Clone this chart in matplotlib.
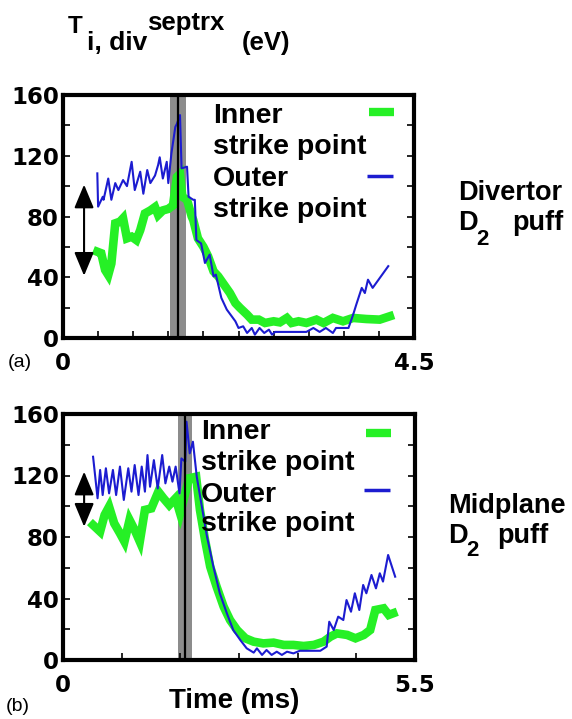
import numpy as np
import matplotlib
matplotlib.use("Agg")
import matplotlib.pyplot as plt
from matplotlib.lines import Line2D
from matplotlib.ticker import FixedLocator, MultipleLocator

# ---------------- data ----------------
# Panel (a): Divertor D2 puff, time axis 0-4.5 ms
t_a_outer = [0.44, 0.45, 0.51, 0.52, 0.58, 0.62, 0.67, 0.71, 0.77, 0.82, 0.88, 0.92, 0.99, 1.03,
             1.08, 1.12, 1.18, 1.22, 1.24, 1.28, 1.33, 1.35, 1.39, 1.44, 1.46, 1.50, 1.52, 1.59,
             1.61, 1.67, 1.69, 1.71, 1.77, 1.82, 1.88, 1.93, 1.96, 2.03, 2.10, 2.21, 2.25, 2.31,
             2.36, 2.42, 2.46, 2.52, 2.58, 2.64, 2.68, 2.72, 3.12, 3.21, 3.29, 3.37, 3.46, 3.50,
             3.66, 3.72, 3.76, 3.83, 3.87, 3.91, 3.97, 4.17]
T_a_outer = [108.4, 86.5, 93, 91, 105, 91, 102, 97.4, 104, 100, 116, 97.4, 109.5, 95,
             110.6, 102, 107, 114, 119, 105, 116, 102, 121.6, 139, 141, 146.8, 111.7, 112.8,
             93, 91, 91, 64.5, 62.3, 49.4, 54.9, 40.6, 41.7, 26.4, 18.7, 11, 6.6, 7.7,
             3.3, 6.6, 2.2, 6.6, 3.3, 5.5, 2.2, 4, 4, 6.6, 4, 6.6, 3.3, 6.6,
             6.6, 15.4, 22, 33, 29.6, 38.4, 33, 47.3]

t_a_inner = [0.44, 0.49, 0.54, 0.58, 0.62, 0.67, 0.73, 0.77, 0.82, 0.88, 0.94, 0.99, 1.05, 1.12,
             1.18, 1.22, 1.28, 1.35, 1.41, 1.46, 1.50, 1.53, 1.59, 1.65, 1.67, 1.73, 1.80, 1.86,
             1.93, 1.99, 2.08, 2.14, 2.21, 2.27, 2.36, 2.42, 2.51, 2.59, 2.70, 2.78, 2.87, 2.93,
             3.02, 3.12, 3.25, 3.34, 3.46, 3.59, 3.72, 3.89, 4.06, 4.19]
T_a_inner = [56.8, 55.8, 44.8, 41.5, 49, 75.5, 76.6, 78.8, 65.6, 66.7, 64.5, 71, 82, 84,
             86.2, 81, 84, 85, 87.3, 106, 108, 93, 91, 80, 77.7, 65.6, 60, 53.8,
             43.9, 40.6, 34, 29.6, 23, 19.8, 15.4, 12.1, 12.1, 9.9, 11, 10.3, 13.2, 9.9,
             11, 9.9, 12.1, 9.9, 13.2, 11, 13.2, 12.5, 12.1, 14.3]

# Panel (b): Midplane D2 puff, time axis 0-5.5 ms
t_b_outer = [0.47, 0.54, 0.58, 0.62, 0.67, 0.72, 0.78, 0.83, 0.89, 0.95, 1.02, 1.07, 1.12, 1.18,
             1.23, 1.28, 1.32, 1.36, 1.42, 1.48, 1.55, 1.60, 1.66, 1.71, 1.76, 1.82, 1.85, 1.91,
             1.93, 1.98, 2.03, 2.09, 2.17, 2.25, 2.35, 2.45, 2.56, 2.66, 2.77, 2.87, 2.98, 3.03,
             3.11, 3.18, 3.26, 3.34, 3.42, 3.50, 3.60, 3.70, 4.02, 4.12, 4.16, 4.23, 4.30, 4.38,
             4.43, 4.50, 4.56, 4.63, 4.69, 4.74, 4.82, 4.89, 4.95, 5.00, 5.08, 5.19]
T_b_outer = [132.2, 105.2, 123.6, 107.3, 124.7, 108.4, 123.6, 107.3, 125.8, 104.1, 124.7, 109.5,
             126.8, 107.3, 125.8, 109.5, 133.3, 112.7, 130, 111.6, 133.3, 114.9, 125.8, 116,
             125.8, 108.4, 131.1, 129, 155, 134.4, 142, 119.2, 99.7, 80.2, 60.7, 43.4, 30.4,
             19.5, 13, 7.6, 4.8, 7.6, 3.3, 6.5, 3.3, 5.4, 3.3, 5.4, 4.3, 6, 6, 8.7, 24.9, 19.5,
             28.2, 26, 39, 31.4, 43.4, 32.5, 48.8, 43.4, 55.3, 46.6, 56.4, 51, 68.3, 54.2]

t_b_inner = [0.47, 0.58, 0.65, 0.72, 0.80, 0.89, 0.96, 1.04, 1.12, 1.20, 1.28, 1.38, 1.49, 1.57,
             1.66, 1.76, 1.83, 1.97, 2.08, 2.14, 2.22, 2.30, 2.40, 2.51, 2.61, 2.72, 2.85, 2.98,
             3.13, 3.29, 3.45, 3.60, 3.76, 3.92, 4.07, 4.18, 4.28, 4.44, 4.57, 4.70, 4.80, 4.88,
             5.01, 5.09, 5.16]
T_b_inner = [87.8, 83.5, 94.3, 99.7, 88.9, 82.4, 77, 91.1, 84.6, 77, 97.6, 98.6, 109.5, 105.2,
             100.8, 105.2, 95.4, 118.2, 119.2, 97.6, 78, 60.7, 47.7, 34.7, 26, 19.5, 14.1, 11.9,
             10.8, 11.3, 9.8, 9.8, 9.1, 9.8, 11.9, 15.2, 17.3, 16.3, 14.1, 16.3, 19.5, 32.5,
             33.6, 29.3, 30.4]

# puff windows (ms) and marked time of interest
band_a = (1.37, 1.58)
line_a = 1.47
band_b = (1.80, 2.01)
line_b = 1.90
# double arrows: (time, low, high)
arrow_a = (0.27, 41, 101)
arrow_b = (0.33, 86.7, 122.5)

xmax_a, xmax_b = 4.5, 5.5
xtick_labels_a = ["0", "4.5"]
xtick_labels_b = ["0", "5.5"]
yticks = [0, 40, 80, 120, 160]

GREEN = "#26f026"
BLUE = "#1c1cd0"
BAND = "#8c8c8c"

W, H = 572, 719
fig = plt.figure(figsize=(W / 100, H / 100), dpi=100)

LS = "Liberation Sans"
tickfont = {"family": "DejaVu Sans", "weight": "bold", "size": 16.5}


def style_axes(ax, xmax, xlabels, nminor):
    ax.set_xlim(0, xmax)
    ax.set_ylim(0, 160)
    ax.set_xticks([0, xmax])
    ax.set_xticklabels(xlabels, fontdict=tickfont)
    ax.xaxis.set_minor_locator(FixedLocator(np.linspace(0, xmax, nminor + 1)))
    ax.set_yticks(yticks)
    ax.set_yticklabels([str(v) for v in yticks], fontdict=tickfont)
    ax.yaxis.set_minor_locator(MultipleLocator(20))
    ax.tick_params(axis="both", which="both", direction="in", right=True, top=False,
                   length=5, width=1.2)
    ax.tick_params(axis="x", which="major", length=0, pad=10)
    ax.tick_params(axis="y", which="major", pad=3)
    for s in ax.spines.values():
        s.set_linewidth(3)


def draw_panel(ax, t_in, T_in, t_out, T_out, band, tline, arrow):
    ax.axvspan(band[0], band[1], color=BAND, lw=0, zorder=1)
    ax.axvline(tline, color="black", lw=1.6, zorder=4)
    ax.plot(t_in, T_in, color=GREEN, lw=6.2, solid_joinstyle="miter", zorder=2)
    ax.plot(t_out, T_out, color=BLUE, lw=1.5, zorder=3)
    ax.annotate("", xy=(arrow[0], arrow[1]), xytext=(arrow[0], arrow[2]),
                arrowprops=dict(arrowstyle="<|-|>,head_length=0.72,head_width=0.3",
                                mutation_scale=20, color="black", lw=1.5,
                                shrinkA=0, shrinkB=0), zorder=5)


def legend_like(ax, xtext, ys, hx, hy):
    labels = ["Inner", "strike point", "Outer", "strike point"]
    for lab, y in zip(labels, ys):
        ax.text(xtext, y, lab, transform=ax.transAxes, fontsize=20.5, family=LS,
                weight="bold", va="baseline", ha="left", zorder=6)
    h_in = Line2D([], [], color=GREEN, lw=6, solid_capstyle="butt")
    h_out = Line2D([], [], color=BLUE, lw=2.5, solid_capstyle="butt")
    lg1 = ax.legend([h_in], [""], loc="center", bbox_to_anchor=(hx[0], hy[0]),
                    frameon=False, handlelength=1.8, handletextpad=0, borderpad=0,
                    borderaxespad=0, fontsize=10)
    ax.add_artist(lg1)
    ax.legend([h_out], [""], loc="center", bbox_to_anchor=(hx[1], hy[1]),
              frameon=False, handlelength=1.9, handletextpad=0, borderpad=0,
              borderaxespad=0, fontsize=10)


# ---------------- panel (a) ----------------
ax1 = fig.add_axes([63 / W, 1 - 338 / H, 351 / W, 243 / H])
draw_panel(ax1, t_a_inner, T_a_inner, t_a_outer, T_a_outer, band_a, line_a, arrow_a)
style_axes(ax1, xmax_a, xtick_labels_a, 10)
legend_like(ax1, 0.427, [0.885, 0.757, 0.626, 0.499], [0.906, 0.903], [0.926, 0.663])

# ---------------- panel (b) ----------------
ax2 = fig.add_axes([63 / W, 1 - 660 / H, 352 / W, 246 / H])
draw_panel(ax2, t_b_inner, T_b_inner, t_b_outer, T_b_outer, band_b, line_b, arrow_b)
style_axes(ax2, xmax_b, xtick_labels_b, 6)
legend_like(ax2, 0.392, [0.897, 0.772, 0.643, 0.524], [0.895, 0.892], [0.919, 0.687])
ax2.set_xlabel("Time (ms)", fontsize=20, family=LS, weight="bold")
ax2.xaxis.set_label_coords(0.487, -0.115)


def ftext(px, py, s, size, weight="bold", family=LS):
    fig.text(px / W, 1 - py / H, s, fontsize=size, family=family, weight=weight,
             ha="left", va="baseline")


# title
ftext(68, 33, "T", 17.5)
ftext(87, 50, "i, div", 19)
ftext(147, 30, "septrx", 18.5)
ftext(242, 50, "(eV)", 18.5)

# side labels
ftext(458, 200, "Divertor", 19.5)
ftext(458, 230, "D", 19.5)
ftext(476, 245, "2", 16)
ftext(512, 230, "puff", 19.5)

ftext(448, 513, "Midplane", 19.5)
ftext(448, 543, "D", 19.5)
ftext(466, 556, "2", 16)
ftext(497, 543, "puff", 19.5)

# panel tags
ftext(8, 367, "(a)", 14, weight="normal")
ftext(6, 711, "(b)", 14, weight="normal")

fig.savefig("out.png", dpi=100)
